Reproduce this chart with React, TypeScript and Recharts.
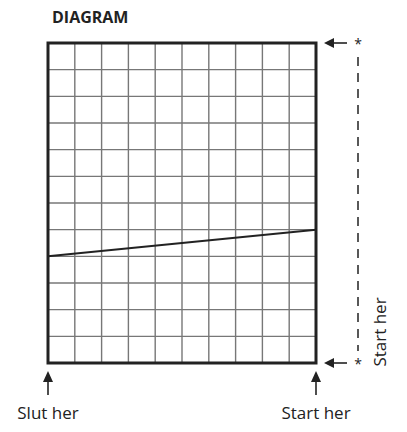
import React from 'react';
import { LineChart, Line, XAxis, YAxis, CartesianGrid, ReferenceArea } from 'recharts';

// grid of 10 columns by 12 rows, line rises one row across the width
const xTicks = [0, 1, 2, 3, 4, 5, 6, 7, 8, 9, 10];
const yTicks = [0, 1, 2, 3, 4, 5, 6, 7, 8, 9, 10, 11, 12];
const positions = [0, 10];
const levels = [4, 5];

const lineData = positions.map((x, i) => ({ x, y: levels[i] }));

const W = 399;
const H = 424;
const margin = { top: 35, right: 91, bottom: 69, left: 40 };
const left = margin.left;
const top = margin.top;
const right = W - margin.right;
const bottom = H - margin.bottom;
const font = '"Open Sans", sans-serif';

const Annotations = () => {
  const ax = right + 42; // asterisk / dashed line column
  return (
    <g>
      {/* right side arrows */}
      {[top, bottom].map((y) => (
        <g key={y}>
          <line x1={right + 14} y1={y} x2={right + 31} y2={y} stroke="#222" strokeWidth={1.6} />
          <polygon points={`${right + 8},${y} ${right + 18},${y - 5} ${right + 18},${y + 5}`} fill="#222" />
          <text x={ax} y={y + 6} textAnchor="middle" fontFamily={font} fontSize={14} fill="#222">*</text>
        </g>
      ))}
      <line x1={ax} y1={top + 14} x2={ax} y2={bottom - 12} stroke="#222" strokeWidth={1.5} strokeDasharray="9 7" />
      <text
        transform={`translate(${ax + 28},${bottom - 31}) rotate(-90)`}
        textAnchor="middle"
        fontFamily={font}
        fontSize={17}
        fill="#222"
      >
        Start her
      </text>
      {/* bottom arrows */}
      {[left, right].map((x) => (
        <g key={x}>
          <line x1={x} y1={bottom + 14} x2={x} y2={bottom + 32} stroke="#222" strokeWidth={1.6} />
          <polygon points={`${x},${bottom + 8} ${x - 5},${bottom + 19} ${x + 5},${bottom + 19}`} fill="#222" />
        </g>
      ))}
      <text x={left} y={bottom + 56} textAnchor="middle" fontFamily={font} fontSize={17} fill="#222">
        Slut her
      </text>
      <text x={right} y={bottom + 56} textAnchor="middle" fontFamily={font} fontSize={17} fill="#222">
        Start her
      </text>
    </g>
  );
};

export default function App() {
  return (
    <div style={{ position: 'relative', width: W, height: H }}>
      <div
        style={{
          position: 'absolute',
          left: left + 4,
          top: 1,
          fontFamily: font,
          fontWeight: 700,
          fontSize: 16,
          lineHeight: '16px',
          color: '#222',
        }}
      >
        DIAGRAM
      </div>
      <LineChart width={W} height={H} data={lineData} margin={margin}>
        <XAxis dataKey="x" type="number" domain={[0, 10]} ticks={xTicks} hide />
        <YAxis type="number" domain={[0, 12]} ticks={yTicks} hide />
        <CartesianGrid stroke="#777" strokeWidth={1.4} />
        <ReferenceArea x1={0} x2={10} y1={0} y2={12} fill="none" stroke="#222" strokeWidth={3} fillOpacity={0} />
        <Line dataKey="y" stroke="#222" strokeWidth={2} dot={false} isAnimationActive={false} />
        <Annotations />
      </LineChart>
    </div>
  );
}
